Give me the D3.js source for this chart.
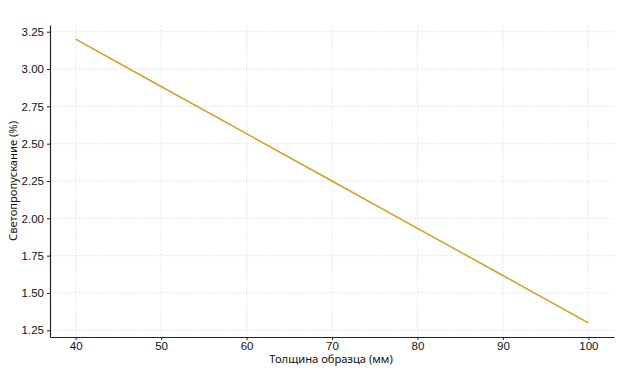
<!DOCTYPE html>
<html>
<head>
<meta charset="utf-8">
<script src="https://cdn.jsdelivr.net/npm/d3@7"></script>
<style>
  body { margin: 0; background: #fff; }
  svg { font-family: "Noto Sans", sans-serif; }
  .grid line { stroke: #e0e0e0; stroke-width: 0.8; stroke-dasharray: 2,1.5; }
  .axis path, .axis line { stroke: #222; }
  .axis text { fill: #111; font-size: 11.5px; }
</style>
</head>
<body>
<svg id="chart" width="624" height="374"></svg>
<script>
// thickness (mm) vs light transmission (%)
var thickness = [40, 50, 60, 70, 80, 90, 100];
var transmission = [3.2, 2.883, 2.567, 2.25, 1.933, 1.617, 1.3];
var xTicks = [40, 50, 60, 70, 80, 90, 100];
var yTicks = [1.25, 1.5, 1.75, 2.0, 2.25, 2.5, 2.75, 3.0, 3.25];

var svg = d3.select("#chart");
var margin = {top: 25, right: 10, bottom: 37, left: 50};
var w = 624 - margin.left - margin.right,
    h = 374 - margin.top - margin.bottom;

var g = svg.append("g").attr("transform", "translate(" + margin.left + "," + margin.top + ")");

var x = d3.scaleLinear().domain([37, 103]).range([0, w]);
var y = d3.scaleLinear().domain([1.205, 3.295]).range([h, 0]);

// grid
g.append("g").attr("class", "grid")
  .selectAll("line").data(xTicks).enter().append("line")
  .attr("x1", d => x(d)).attr("x2", d => x(d))
  .attr("y1", 0).attr("y2", h);
g.append("g").attr("class", "grid")
  .selectAll("line").data(yTicks).enter().append("line")
  .attr("x1", 0).attr("x2", w)
  .attr("y1", d => y(d)).attr("y2", d => y(d));

// line
var line = d3.line()
  .x((d, i) => x(thickness[i]))
  .y(d => y(d));
g.append("path")
  .datum(transmission)
  .attr("d", line)
  .attr("fill", "none")
  .attr("stroke", "#d4a020")
  .attr("stroke-width", 1.5);

// axes
var xAxis = g.append("g").attr("class", "axis")
  .attr("transform", "translate(0," + h + ")")
  .call(d3.axisBottom(x).tickValues(xTicks).tickSize(3).tickPadding(2).tickSizeOuter(0));
var yAxis = g.append("g").attr("class", "axis")
  .call(d3.axisLeft(y).tickValues(yTicks).tickSize(3).tickPadding(3).tickSizeOuter(0)
    .tickFormat(d3.format(".2f")));
xAxis.select(".domain").attr("stroke-width", 1.2);
yAxis.select(".domain").attr("stroke-width", 1.2);

// labels
svg.append("text")
  .attr("x", margin.left + w / 2 - 1).attr("y", 363)
  .attr("text-anchor", "middle")
  .attr("font-size", "11.2px").attr("fill", "#111")
  .text("Толщина образца (мм)");
svg.append("text")
  .attr("transform", "translate(17," + (margin.top + h / 2) + ") rotate(-90)")
  .attr("text-anchor", "middle")
  .attr("font-size", "11.2px").attr("fill", "#111")
  .text("Светопропускание (%)");
</script>
</body>
</html>
